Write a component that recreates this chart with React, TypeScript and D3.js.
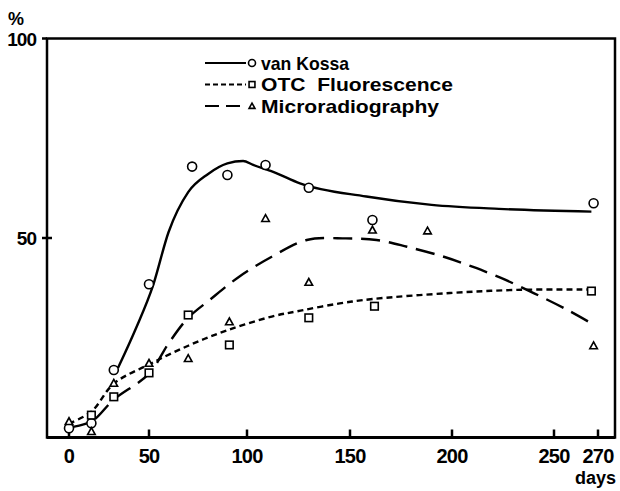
import React, {useEffect, useRef} from 'react';
import * as d3 from 'd3';

// x axis ticks (days); the original axis is drawn unevenly, so the scale is piecewise
const dayTicks = [0, 50, 100, 150, 200, 250, 270];
const percentTicks = [50, 100];

// measured points
const kossaDays = [0, 14, 28, 50, 72, 90, 109, 130, 161, 268];
const kossaValues = [2.3, 3.6, 16.9, 38.4, 67.9, 65.8, 68.3, 62.6, 54.5, 58.7];
const otcDays = [14, 28, 50, 70, 91, 130, 162, 267];
const otcValues = [5.6, 10.2, 16.2, 30.7, 23.2, 30.0, 32.9, 36.7];
const microDays = [0, 14, 28, 50, 70, 91, 109, 130, 161, 188, 268];
const microValues = [4.0, 1.5, 13.6, 18.6, 19.8, 29.0, 54.9, 38.9, 52.0, 51.8, 23.0];

// hand-fitted curves
const kossaCurveDays = [30.6, 42, 52, 60, 70, 80, 90, 98, 103, 112.7, 125.7, 158, 190, 223, 267];
const kossaCurveValues = [17.4, 27.5, 38, 51.5, 61.5, 66, 68.7, 69.3, 68.3, 66.6, 63.7, 60.4, 58.3, 57.3, 56.6];
const otcCurveDays = [0, 14, 28, 50, 70, 90, 112, 126, 145, 161, 199, 232, 265];
const otcCurveValues = [3.5, 6.5, 13.5, 18.3, 23, 26.9, 30.3, 31.8, 33.6, 34.7, 36.2, 37, 37.1];
const microCurveDays = [0, 14, 28, 50, 60, 70, 81, 96, 112, 129, 148, 163, 178, 196, 210, 224, 240, 256, 267];
const microCurveValues = [2.5, 4, 9.5, 16, 23.6, 30, 34.5, 40.3, 45.3, 49.5, 49.9, 49.5, 47.8, 45.3, 42.8, 40, 36.2, 32, 28.6];

const legendLabels = ['van Kossa', 'OTC  Fluorescence', 'Microradiography'];

const App = () => {
    const svgRef = useRef<SVGSVGElement>(null);

    useEffect(() => {
        const svg = d3.select(svgRef.current);
        svg.selectAll('*').remove();

        const font = '"Liberation Sans", Arial, sans-serif';
        const left = 47, right = 615, top = 38.5, bottom = 437.5;

        const x = d3.scaleLinear()
            .domain(dayTicks)
            .range([69, 149, 247, 350, 452, 554, 598]);
        const y = d3.scaleLinear().domain([0, 100]).range([bottom, top]);

        svg.append('rect').attr('width', 620).attr('height', 491).attr('fill', '#fff');

        // frame
        svg.append('rect')
            .attr('x', left).attr('y', top)
            .attr('width', right - left).attr('height', bottom - top)
            .attr('fill', 'none').attr('stroke', '#000').attr('stroke-width', 2.5);
        svg.append('line')
            .attr('x1', left).attr('x2', right)
            .attr('y1', bottom).attr('y2', bottom)
            .attr('stroke', '#000').attr('stroke-width', 3);

        // x ticks
        const xAxis = svg.append('g');
        dayTicks.forEach(d => {
            xAxis.append('line')
                .attr('x1', x(d)).attr('x2', x(d))
                .attr('y1', bottom).attr('y2', bottom - 8)
                .attr('stroke', '#000').attr('stroke-width', 2.5);
            xAxis.append('text')
                .attr('x', x(d)).attr('y', 463)
                .attr('text-anchor', 'middle')
                .attr('font-family', font).attr('font-weight', 'bold')
                .attr('font-size', 20).attr('letter-spacing', -0.8)
                .text(d);
        });
        svg.append('text')
            .attr('x', 616).attr('y', 484)
            .attr('text-anchor', 'end')
            .attr('font-family', font).attr('font-weight', 'bold').attr('font-size', 18)
            .text('days');

        // y ticks
        percentTicks.forEach(v => {
            svg.append('line')
                .attr('x1', left - 5).attr('x2', v === 100 ? left : left + 5)
                .attr('y1', y(v)).attr('y2', y(v))
                .attr('stroke', '#000').attr('stroke-width', 2.5);
            svg.append('text')
                .attr('x', 36).attr('y', y(v) + 7)
                .attr('text-anchor', 'end')
                .attr('font-family', font).attr('font-weight', 'bold')
                .attr('font-size', 19).attr('letter-spacing', -1)
                .text(v);
        });
        svg.append('text')
            .attr('x', 8).attr('y', 25)
            .attr('font-family', font).attr('font-weight', 'bold').attr('font-size', 18)
            .attr('letter-spacing', -1)
            .text('%');

        const smoothLine = d3.line<[number, number]>()
            .x(d => x(d[0]))
            .y(d => y(d[1]))
            .curve(d3.curveCatmullRom.alpha(0.5));
        const monoLine = d3.line<[number, number]>()
            .x(d => x(d[0]))
            .y(d => y(d[1]))
            .curve(d3.curveMonotoneX);

        const styles = [
            {dash: null, line: monoLine, curveDays: kossaCurveDays, curveValues: kossaCurveValues, days: kossaDays, values: kossaValues, shape: 'circle'},
            {dash: '6,4', line: smoothLine, curveDays: otcCurveDays, curveValues: otcCurveValues, days: otcDays, values: otcValues, shape: 'square'},
            {dash: '19,9', line: smoothLine, curveDays: microCurveDays, curveValues: microCurveValues, days: microDays, values: microValues, shape: 'triangle'},
        ];

        const drawMarker = (g, shape: string, cx: number, cy: number, s: number) => {
            if (shape === 'circle') {
                g.append('circle').attr('cx', cx).attr('cy', cy).attr('r', s * 0.5)
                    .attr('fill', '#fff').attr('stroke', '#000').attr('stroke-width', 1.6);
            } else if (shape === 'square') {
                g.append('rect').attr('x', cx - s * 0.42).attr('y', cy - s * 0.42)
                    .attr('width', s * 0.84).attr('height', s * 0.84)
                    .attr('fill', '#fff').attr('stroke', '#000').attr('stroke-width', 1.6);
            } else {
                const h = s * 0.42;
                g.append('path')
                    .attr('d', `M${cx},${cy - h}L${cx + h},${cy + h * 0.8}L${cx - h},${cy + h * 0.8}Z`)
                    .attr('fill', '#fff').attr('stroke', '#000').attr('stroke-width', 1.6);
            }
        };

        styles.forEach(s => {
            const pts = s.curveDays.map((d, i) => [d, s.curveValues[i]] as [number, number]);
            svg.append('path')
                .attr('d', s.line(pts))
                .attr('fill', 'none')
                .attr('stroke', '#000')
                .attr('stroke-width', 2.4)
                .attr('stroke-dasharray', s.dash);
        });

        const marks = svg.append('g');
        styles.forEach(s => {
            s.days.forEach((d, i) => drawMarker(marks, s.shape, x(d), y(s.values[i]), 9));
        });

        // legend
        const legendWidths = [88, 192, 178];
        const legend = svg.append('g');
        styles.forEach((s, i) => {
            const ly = 63 + i * 21.5;
            legend.append('line')
                .attr('x1', 205).attr('x2', 246)
                .attr('y1', ly).attr('y2', ly)
                .attr('stroke', '#000').attr('stroke-width', 2.2)
                .attr('stroke-dasharray', i === 1 ? '5,3' : i === 2 ? '14,7' : null);
            drawMarker(legend, s.shape, 252, ly, 7);
            legend.append('text')
                .attr('x', 261).attr('y', ly + 6.5)
                .attr('font-family', font).attr('font-weight', 'bold').attr('font-size', 18.5)
                .attr('textLength', legendWidths[i])
                .attr('lengthAdjust', 'spacingAndGlyphs')
                .style('white-space', 'pre')
                .text(legendLabels[i]);
        });
    }, []);

    return (
        <svg ref={svgRef} width={620} height={491}
             style={{position: 'absolute', left: 0, top: 0, display: 'block'}}></svg>
    );
};

export default App;
